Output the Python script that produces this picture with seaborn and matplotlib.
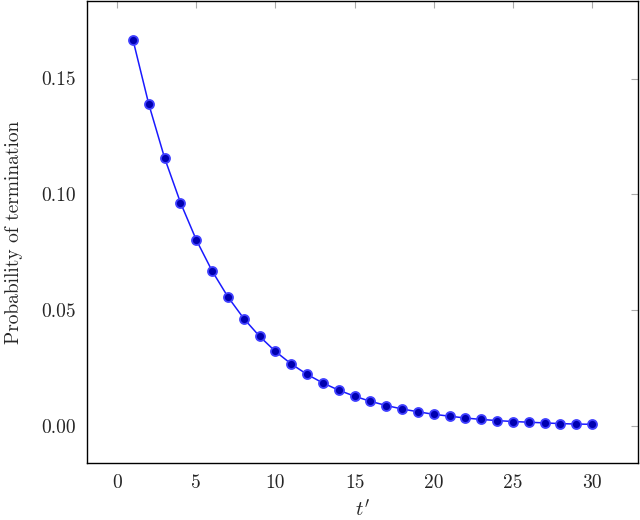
import matplotlib
matplotlib.use('Agg')
import matplotlib.pyplot as plt
import seaborn as sns
import pandas as pd

t_prime = list(range(1, 31))
prob_term = [0.1667, 0.1389, 0.1157, 0.0965, 0.0804, 0.0670, 0.0558, 0.0465, 0.0388, 0.0323,
             0.0269, 0.0224, 0.0187, 0.0156, 0.0130, 0.0108, 0.0090, 0.0075, 0.0063, 0.0052,
             0.0044, 0.0036, 0.0030, 0.0025, 0.0021, 0.0018, 0.0015, 0.0012, 0.0010, 0.0009]
xticks = [0, 5, 10, 15, 20, 25, 30]
yticks = [0.00, 0.05, 0.10, 0.15]

df = pd.DataFrame({'t': t_prime, 'p': prob_term})

sns.set_style('white')
plt.rcParams['font.family'] = ['cmr10', 'DejaVu Serif']
plt.rcParams['mathtext.fontset'] = 'cm'
plt.rcParams['axes.formatter.use_mathtext'] = True

fig = plt.figure(figsize=(6.4, 5.2), dpi=100)
ax = fig.add_axes([0.136, 0.11, 0.861, 0.888])

sns.lineplot(data=df, x='t', y='p', ax=ax, color='#1a1aff', linewidth=1.1,
             marker='o', markersize=6.5, markerfacecolor='#0000b0',
             markeredgecolor='#4040ff', markeredgewidth=1.3)

ax.set_xlim(-1.9, 32.9)
ax.set_ylim(-0.0157, 0.1834)
ax.set_xticks(xticks)
ax.set_xticklabels([str(v) for v in xticks])
ax.set_yticks(yticks)
ax.set_yticklabels(['%.2f' % v for v in yticks])
ax.tick_params(direction='in', length=5, color='#aaaaaa', width=0.8,
               top=True, right=True, labelsize=14, pad=8)
for s in ax.spines.values():
    s.set_color('black')
    s.set_linewidth(1.0)

ax.set_xlabel(r"$t'$", fontsize=15, labelpad=5)
ax.set_ylabel('Probability of termination', fontsize=14, labelpad=13)

fig.savefig('out.png', dpi=100)
